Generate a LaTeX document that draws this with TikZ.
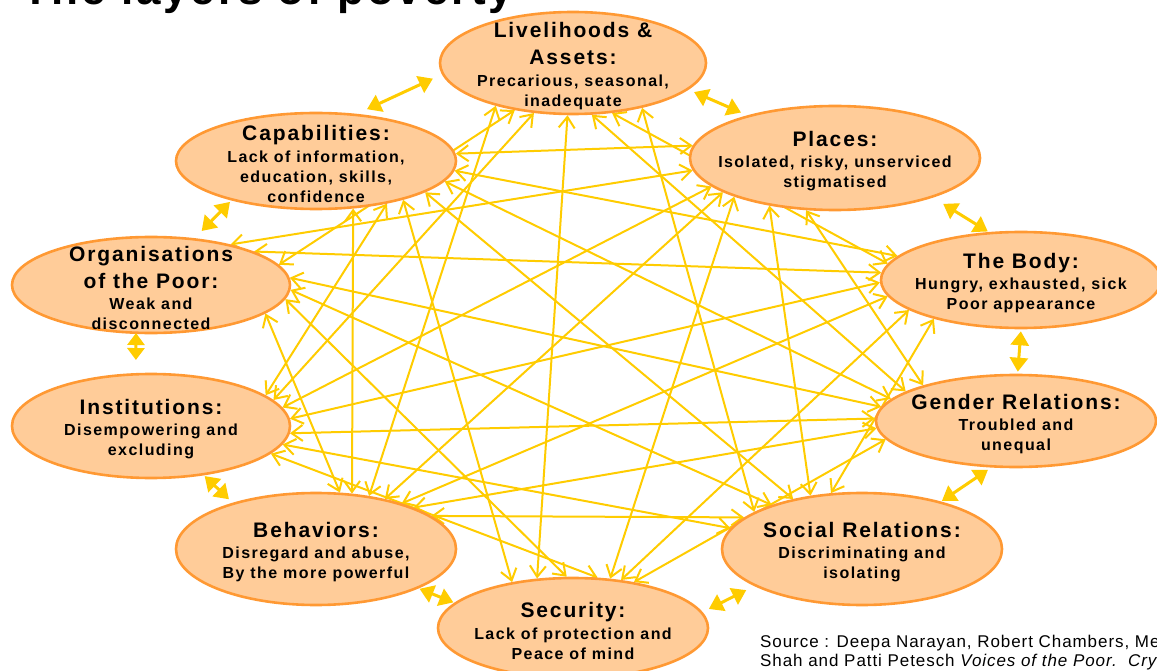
\documentclass[tikz,border=0pt]{standalone}
\usepackage{fontspec}
\setmainfont{Liberation Sans}
\newfontfamily\spacedsans[LetterSpace=9]{Liberation Sans}
\newfontfamily\titlesans[LetterSpace=6.5]{Liberation Sans}
\newfontfamily\sourcesans[LetterSpace=5.5]{Liberation Sans}
\usetikzlibrary{shapes.geometric,arrows.meta,backgrounds}
\definecolor{layerfill}{HTML}{FFCC99}
\definecolor{layerline}{HTML}{FF9933}
\definecolor{linkgold}{HTML}{FFCC00}
\newcommand\layerhead{\fontsize{21}{21}\selectfont}
\newcommand\layertop{\rule{0pt}{21pt}}
\tikzset{
  layer/.style={ellipse, draw=layerline, fill=layerfill, line width=2.6pt,
    inner xsep=-40pt, inner ysep=-30pt, align=center,
    font=\spacedsans\bfseries\fontsize{16}{20}\selectfont},
  link/.style={draw=linkgold, line width=2pt,
    {Straight Barb[length=11pt,width=16pt]}-{Straight Barb[length=11pt,width=16pt]}},
  nbr/.style={draw=linkgold, line width=3pt,
    {Triangle[length=14pt,width=18pt]}-{Triangle[length=14pt,width=18pt]}},
}
\begin{document}
\begin{tikzpicture}[x=1pt,y=-1pt]
    \useasboundingbox (0,0) rectangle (1157,671);

    % Titel
    \node[anchor=base west, inner sep=0pt, font=\titlesans\bfseries\fontsize{44}{44}\selectfont] (titel) at (22,5) {The layers of poverty};

    % Ebenen
    \node[layer, minimum width=266pt, minimum height=102pt] (liv) at (573,63)
        {\layertop{\layerhead Livelihoods \&}\\[7pt]{\layerhead Assets:}\\[1.5pt]Precarious, seasonal,\\inadequate};
    \node[layer, minimum width=290pt, minimum height=104pt] (plc) at (835,158)
        {\layertop{\layerhead Places:}\\[1.5pt]Isolated, risky, unserviced\\stigmatised};
    \node[layer, minimum width=280pt, minimum height=96pt] (body) at (1021,280)
        {\layertop{\layerhead The Body:}\\[1.5pt]Hungry, exhausted, sick\\Poor appearance};
    \node[layer, minimum width=280pt, minimum height=92pt] (gend) at (1016,421)
        {\layertop{\layerhead Gender Relations:}\\[1.5pt]Troubled and\\unequal};
    \node[layer, minimum width=280pt, minimum height=112pt] (soc) at (862,549)
        {\layertop{\layerhead Social Relations:}\\[1.5pt]Discriminating and\\isolating};
    \node[layer, minimum width=270pt, minimum height=100pt] (sec) at (573,628)
        {\layertop{\layerhead Security:}\\[1.5pt]Lack of protection and\\Peace of mind};
    \node[layer, minimum width=280pt, minimum height=112pt] (beh) at (316,549)
        {\layertop{\layerhead Behaviors:}\\[1.5pt]Disregard and abuse,\\By the more powerful};
    \node[layer, minimum width=278pt, minimum height=104pt] (inst) at (151,426)
        {\layertop{\layerhead Institutions:}\\[1.5pt]Disempowering and\\excluding};
    \node[layer, minimum width=278pt, minimum height=96pt] (org) at (151,285)
        {\layertop{\layerhead Organisations}\\[7pt]{\layerhead of the Poor:}\\[1.5pt]Weak and\\disconnected};
    \node[layer, minimum width=280pt, minimum height=96pt] (cap) at (316,161)
        {\layertop{\layerhead Capabilities:}\\[1.5pt]Lack of information,\\education, skills,\\confidence};

    % Verbindungen (hinter den Ebenen)
    \begin{pgfonlayer}{background}
    \fill[white] (0,0) rectangle (1157,671);
    \foreach \a/\b in {liv.209/beh.45, liv.219/org.9, liv.232/inst.12, liv.264/sec.126,
        liv.290/gend.165, liv.308/body.173, liv.327/soc.161,
        plc.175/cap.3, plc.185/org.27, plc.193/inst.8, plc.197/beh.36,
        plc.201/sec.53, plc.216/soc.134, plc.241/gend.159,
        body.169/cap.-4, body.177/org.18, body.181/inst.3, body.187/beh.28,
        body.195/sec.45, body.204/soc.119,
        gend.170/cap.-9, gend.174/org.3, gend.179/inst.-3, gend.183/beh.23, gend.188/sec.37,
        soc.144/cap.-16, soc.154/org.-2, soc.171/inst.-8, soc.165/beh.16,
        sec.143/cap.-24, sec.97/org.-6, sec.64/inst.-13,
        beh.67/org.-14, beh.57/cap.-52.5,
        inst.15/cap.-31}
        \draw[link] (\a) -- (\b);
    \end{pgfonlayer}

    % Nachbarn
    \draw[nbr, shorten <=11pt, shorten >=10pt] (cap.49) -- (liv.185);
    \draw[nbr, shorten <=6pt, shorten >=7pt] (liv.-13) -- (plc.154);
    \draw[nbr, shorten <=12pt, shorten >=1pt] (plc.-22) -- (body.124);
    \draw[nbr, shorten <=2pt, shorten >=2pt] (body.270) -- (gend.88);
    \draw[nbr, shorten <=4pt, shorten >=1pt] (gend.242) -- (soc.31);
    \draw[nbr, shorten <=9pt, shorten >=7pt] (soc.199) -- (sec.7);
    \draw[nbr, shorten <=1pt, shorten >=1pt] (sec.168) -- (beh.-21);
    \draw[nbr, shorten <=5pt, shorten >=1pt] (beh.151) -- (inst.-43);
    \draw[nbr, {Triangle[length=12pt,width=17pt]}-{Triangle[length=12pt,width=17pt]},
        shorten <=13pt, shorten >=-1pt] (inst.106) -- (org.253);
    \draw[nbr, shorten <=10pt, shorten >=2pt] (org.47) -- (cap.205);

    % Quelle
    \node[anchor=base west, inner sep=0pt, font=\sourcesans\fontsize{17}{19}\selectfont] (quelleA) at (760,647)
        {Source : Deepa Narayan, Robert Chambers, Me};
    \node[anchor=base west, inner sep=0pt, font=\sourcesans\fontsize{17}{19}\selectfont] (quelleB) at (760,666)
        {Shah and Patti Petesch \textit{Voices of the Poor.\ \ Cry}};
\end{tikzpicture}
\end{document}
